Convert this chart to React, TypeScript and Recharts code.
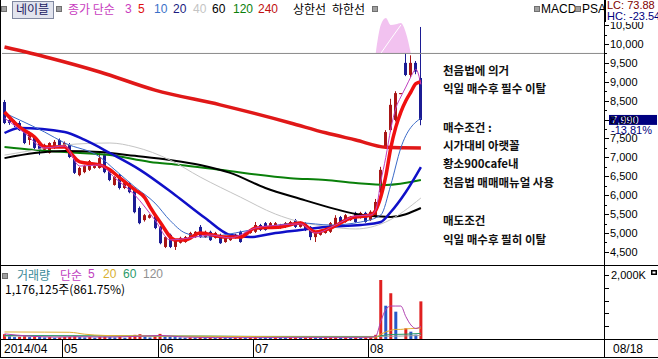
import React from "react"
import {
  Area,
  Bar,
  Cell,
  ComposedChart,
  Line,
  ReferenceLine,
  XAxis,
  YAxis,
} from "recharts"

// 일봉 슬롯 (빈 공간 포함)
const SLOTS = 120

const monthStart = [0, 12, 31, 50, 73]
const monthLabel = ["2014/04", "05", "06", "07", "08"]

const open = [
  8465, 7990, 7940, 7910, 7720, 7460, 7540, 7380, 7200, 7120,
  7250, 7460, 7280, 7330, 7010, 6530, 6610, 6670, 6720, 6720,
  7060, 6670, 6270, 6530, 6190, 6320, 6140, 5660, 5340, 5400,
  5470, 5160, 4630, 4950, 4630, 4740, 4760, 4870, 4890, 5160,
  4890, 5030, 4870, 4950, 4760, 4810, 4870, 5030, 4890, 5000,
  5030, 5210, 5260, 5130, 5130, 5130, 5160, 5210, 5340, 5160,
  5260, 5160, 4890, 4950, 5000, 5030, 5210, 5420, 5290, 5340,
  5530, 5400, 5530, 5340, 5420, 6080, 7270, 7720, 7990, 8700,
  9500, 9180, 9500, 9100,
]
const high = [
  8520, 8040, 7990, 7960, 7750, 7680, 7580, 7400, 7360, 7400,
  7460, 7500, 7420, 7380, 7040, 6750, 6800, 6930, 6800, 7140,
  7100, 6700, 6500, 6560, 6350, 6350, 6170, 5700, 5500, 5500,
  5500, 5180, 4920, 4980, 4840, 4900, 4920, 5030, 5050, 5210,
  5060, 5060, 5030, 4980, 4920, 4920, 4980, 5060, 5030, 5100,
  5290, 5240, 5290, 5290, 5290, 5240, 5290, 5320, 5370, 5310,
  5290, 5180, 5050, 5050, 5100, 5290, 5470, 5450, 5500, 5450,
  5560, 5560, 5560, 5600, 5900, 6750, 7720, 8550, 8750, 8700,
  9760, 9700, 9550, 10450,
]
const low = [
  7880, 7860, 7800, 7700, 7350, 7330, 7220, 7060, 7150, 7100,
  7220, 7250, 7250, 6980, 6560, 6500, 6580, 6640, 6700, 6700,
  6580, 6370, 6250, 6150, 6160, 6050, 5520, 5230, 5300, 5380,
  5100, 4700, 4600, 4600, 4550, 4720, 4740, 4850, 4870, 4870,
  4870, 4790, 4850, 4710, 4740, 4790, 4850, 4740, 4870, 4980,
  5000, 5050, 5060, 5110, 5110, 5110, 5130, 5190, 5130, 5140,
  5050, 4810, 4760, 4930, 4980, 5000, 5190, 5240, 5270, 5320,
  5270, 5380, 5270, 5320, 5400, 6050, 7250, 7680, 7950, 8700,
  9150, 9100, 9200, 7850,
]
const close = [
  7910, 7910, 7860, 7720, 7380, 7650, 7250, 7200, 7330, 7380,
  7410, 7280, 7380, 7010, 6590, 6720, 6770, 6900, 6770, 6980,
  6610, 6400, 6480, 6190, 6320, 6080, 5550, 5260, 5470, 5470,
  5130, 4730, 4890, 4630, 4810, 4870, 4890, 5000, 5030, 4890,
  5030, 4810, 5000, 4730, 4890, 4890, 4950, 4760, 5000, 5080,
  5210, 5080, 5080, 5260, 5260, 5210, 5260, 5290, 5160, 5290,
  5080, 4890, 5030, 5030, 5080, 5260, 5400, 5260, 5470, 5420,
  5290, 5530, 5290, 5560, 5820, 6670, 7670, 8390, 8700, 8700,
  9180, 9500, 9270, 7990,
]
// 거래량 (천주)
const volume = [
  150, 90, 60, 70, 110, 60, 80, 70, 50, 60,
  40, 50, 60, 70, 100, 60, 50, 60, 40, 70,
  80, 60, 50, 70, 40, 60, 130, 150, 70, 50,
  90, 160, 80, 70, 60, 50, 40, 50, 45, 60,
  40, 50, 35, 45, 40, 35, 40, 50, 40, 45,
  60, 50, 45, 40, 50, 45, 40, 50, 55, 45,
  50, 60, 50, 40, 45, 60, 70, 50, 55, 45,
  50, 45, 60, 80, 130, 1844, 1040, 1430, 854, 0,
  333, 229, 136, 1176,
]

// 이동평균 [일, 값] - 차트에서 읽은 값
const ma3 = [[0, 8040], [4, 7645], [8, 7250], [12, 7300], [15, 6770], [19, 6800], [22, 6455], [26, 6000], [30, 5340], [33, 4815], [37, 4870], [41, 4945], [45, 4870], [50, 5130], [55, 5210], [59, 5240], [62, 5000], [66, 5210], [70, 5450], [73, 5475], [74, 5610], [75, 6350], [76, 7000], [77, 7750], [78, 8300], [79, 8600], [80, 8860], [81, 9130], [82, 9330], [83, 8930]]
const ma5 = [[0, 8200], [3, 7800], [6, 7540], [8, 7275], [12, 7275], [13, 7140], [15, 6880], [19, 6800], [21, 6670], [23, 6455], [26, 6140], [28, 5925], [29, 5690], [31, 5290], [34, 4815], [36, 4815], [39, 5000], [44, 4890], [47, 4890], [50, 5130], [55, 5160], [59, 5265], [62, 5025], [65, 5130], [69, 5395], [73, 5475], [74, 5600], [75, 5950], [76, 6500], [77, 7250], [78, 7800], [79, 8200], [80, 8500], [81, 8730], [82, 8950], [83, 9000]]
const ma10 = [[0, 8175], [3, 7990], [8, 7670], [12, 7380], [19, 7010], [22, 6670], [26, 6215], [30, 5790], [33, 5330], [36, 5000], [40, 4890], [46, 5000], [51, 5130], [59, 5265], [65, 5210], [71, 5290], [75, 5475], [77, 6270], [79, 7250], [83, 8040]]
const ma20 = [[0, 7645], [3, 7780], [12, 7670], [16, 7460], [21, 7115], [27, 6670], [34, 6005], [40, 5395], [45, 4945], [49, 4890], [54, 5000], [59, 5080], [64, 5160], [71, 5210], [75, 5290], [77, 5555], [80, 6085], [83, 6745]]
const ma40 = [[0, 7060], [6, 7195], [12, 7330], [21, 7380], [26, 7275], [33, 6930], [39, 6480], [47, 5950], [54, 5500], [59, 5290], [65, 5160], [70, 5105], [76, 5290], [83, 5925]]
const ma60 = [[0, 6980], [6, 7115], [12, 7170], [19, 7140], [26, 7040], [33, 6930], [39, 6800], [45, 6590], [52, 6190], [59, 5900], [66, 5630], [70, 5500], [77, 5420], [83, 5660]]
const ma120 = [[0, 7275], [6, 7195], [12, 7140], [21, 7060], [29, 6880], [35, 6800], [43, 6670], [57, 6450], [64, 6400], [70, 6320], [76, 6270], [83, 6400]]
const ma240 = [[0, 9920], [9, 9630], [19, 9260], [30, 8780], [43, 8390], [57, 7910], [64, 7650], [70, 7460], [76, 7270], [83, 7250]]

// 상단 분홍 영역
const bandBase = 9750
const bandTop = [[74, 9750], [75, 10500], [76, 10690], [77, 10500], [78, 10520], [79, 10555], [80, 10300], [81, 9750]]
const bandEdge = [[75, 9750], [77, 10130], [79, 10500]]

const vma5 = [[0, 160], [5, 90], [10, 60], [15, 70], [20, 60], [26, 80], [31, 110], [36, 60], [42, 45], [50, 45], [60, 50], [70, 50], [73, 55], [74, 90], [75, 550], [76, 920], [77, 1030], [78, 1030], [79, 1030], [80, 700], [81, 440], [82, 330], [83, 400]]
const vma20 = [[0, 220], [8, 215], [13, 210], [16, 150], [20, 110], [30, 95], [40, 85], [50, 75], [60, 60], [70, 55], [74, 60], [75, 150], [76, 220], [77, 270], [78, 300], [79, 300], [80, 315], [81, 325], [82, 330], [83, 345]]
const vma60 = [[0, 110], [20, 100], [40, 90], [60, 70], [74, 70], [75, 100], [77, 140], [80, 150], [83, 175]]
const vma120 = [[0, 90], [40, 85], [74, 80], [83, 110]]

const priceTicks = [4500, 4750, 5000, 5250, 5500, 5750, 6000, 6250, 6500, 6750, 7000, 7250, 7500, 7750, 8000, 8250, 8500, 8750, 9000, 9250, 9500, 9750, 10000, 10250, 10500]
const volumeTicks = [0, 400, 800, 1200, 1600, 2000]

const UP = "#a81616"
const DOWN = "#1c1c94"
const KFONT = "'Noto Sans CJK KR', 'Noto Sans', sans-serif"
const AFONT = "'Liberation Sans', Arial, sans-serif"

const rows: any[] = Array.from({ length: SLOTS }, (_, d) => {
  const r: any = { day: d }
  if (d < close.length) {
    r.open = open[d]
    r.high = high[d]
    r.low = low[d]
    r.close = close[d]
    r.range = [low[d], high[d]]
    r.volume = volume[d]
  }
  return r
})
const put = (key: string, pts: number[][]) =>
  pts.forEach(([d, v]) => (rows[d][key] = v))
put("ma3", ma3)
put("ma5", ma5)
put("ma10", ma10)
put("ma20", ma20)
put("ma40", ma40)
put("ma60", ma60)
put("ma120", ma120)
put("ma240", ma240)
put("edge", bandEdge)
put("vma5", vma5)
put("vma20", vma20)
put("vma60", vma60)
put("vma120", vma120)
bandTop.forEach(([d, v]) => (rows[d].band = [bandBase, v]))

const last = close.length - 1
const lastClose = close[last]
const change = ((close[last] - close[last - 1]) / close[last - 1]) * 100

function Candle(props: any) {
  const { x, y, width, height, payload } = props
  if (!payload || payload.open == null) return <g />
  let top = y
  let h = height
  if (h < 0) {
    top = y + h
    h = -h
  }
  const { open: o, close: c, high: hi, low: lo } = payload
  const color = c >= o ? UP : DOWN
  const k = hi > lo ? h / (hi - lo) : 0
  const py = (v: number) => top + (hi - v) * k
  const bx = Math.round(x)
  const w = Math.max(1, Math.round(width))
  const cx = bx + Math.floor(w / 2) + 0.5
  const b1 = py(Math.max(o, c))
  const b2 = py(Math.min(o, c))
  return (
    <g>
      <line x1={cx} x2={cx} y1={top} y2={top + Math.max(h, 1)} stroke={color} />
      <rect x={bx} y={b1} width={w} height={Math.max(1, b2 - b1)} fill={color} />
    </g>
  )
}

function PriceTick(props: any) {
  const { x, y, payload } = props
  const v = payload.value as number
  const major = v % 500 === 0
  const yy = Math.round(y) + 0.5
  return (
    <g>
      <line x1={x} x2={x + (major ? 5 : 3)} y1={yy} y2={yy} stroke="#000" />
      {major && (
        <text x={x + 6} y={y + 4} fontSize={11} fill="#000" fontFamily={AFONT}>
          {v.toLocaleString("en-US")}
        </text>
      )}
    </g>
  )
}

function VolumeTick(props: any) {
  const { x, y, payload } = props
  const v = payload.value as number
  const yy = Math.round(y) + 0.5
  return (
    <g>
      <line x1={x} x2={x + 5} y1={yy} y2={yy} stroke="#000" />
      {v === 2000 && (
        <g>
          <text x={x + 7} y={y + 4} fontSize={11} fill="#000" fontFamily={AFONT}>
            2,000K
          </text>
          <rect x={x + 47} y={y - 5} width={6} height={5} fill="#000" />
          <rect x={x + 48.5} y={y - 3.5} width={3} height={2} fill="#fff" />
        </g>
      )}
    </g>
  )
}

const BAND = 602 / SLOTS

function DateTick(props: any) {
  const { x, y, payload } = props
  const idx = monthStart.indexOf(payload.value)
  if (idx < 0) return <g />
  const lx = Math.round(x - BAND / 2) + 0.5
  return (
    <g>
      {idx > 0 && <line x1={lx} x2={lx} y1={y} y2={y + 18} stroke="#000" />}
      <text x={lx + 1.5} y={y + 14} fontSize={12} fill="#000" fontFamily={AFONT}>
        {monthLabel[idx]}
      </text>
    </g>
  )
}

function PriceTag(props: any) {
  const vb = props.viewBox || {}
  const x0 = vb.x + vb.width + 5
  const yc = vb.y
  return (
    <g>
      <rect x={x0} y={yc - 5} width={48} height={10} fill="#000080" />
      <text x={x0 + 2} y={yc + 4} fontSize={11} fill="#fff" fontFamily={AFONT}>
        {lastClose.toLocaleString("en-US")}
      </text>
      <rect x={x0} y={yc + 5} width={48} height={9} fill="#fff" />
      <text x={x0 + 2} y={yc + 14} fontSize={11} fill="#000080" fontFamily={AFONT}>
        {change.toFixed(2)}%
      </text>
    </g>
  )
}

const T = (p: {
  x: number
  y: number
  c?: string
  s?: number
  w?: number
  f?: string
  lh?: number
  children: React.ReactNode
}) => (
  <div
    style={{
      position: "absolute",
      left: p.x,
      top: p.y,
      color: p.c || "#000",
      fontSize: p.s || 12,
      fontWeight: p.w || 400,
      fontFamily: p.f || KFONT,
      lineHeight: (p.lh || 14) + "px",
      whiteSpace: "nowrap",
    }}
  >
    {p.children}
  </div>
)

const Sq = ({ x, y }: { x: number; y: number }) => (
  <div
    style={{
      position: "absolute",
      left: x,
      top: y,
      width: 4,
      height: 4,
      background: "#a0a0a0",
      border: "1px solid #707070",
    }}
  />
)

const HLine = ({ y }: { y: number }) => (
  <div style={{ position: "absolute", left: 0, top: y, width: 658, height: 1, background: "#000" }} />
)

const maLine = (key: string, color: string, w: number) => (
  <Line
    key={key}
    dataKey={key}
    stroke={color}
    strokeWidth={w}
    dot={false}
    type="monotone"
    connectNulls
    isAnimationActive={false}
  />
)

const notes = [
  ["천음법에 의거", 63],
  ["익일 매수후 필수 이탈", 81],
  ["매수조건 :", 120],
  ["시가대비 아랫꼴", 138],
  ["황소900cafe내", 156],
  ["천음법 매매매뉴얼 사용", 175],
  ["매도조건", 213],
  ["익일 매수후 필히 이탈", 232],
] as const

export default function App() {
  return (
    <div
      style={{
        position: "absolute",
        left: 0,
        top: 0,
        width: 658,
        height: 359,
        background: "#fff",
        overflow: "hidden",
      }}
    >
      <div style={{ position: "absolute", left: 0, top: 0 }}>
        <ComposedChart
          width={658}
          height={264}
          data={rows}
          margin={{ top: 0, right: 0, bottom: 1, left: 2 }}
        >
          <XAxis dataKey="day" hide />
          <YAxis
            orientation="right"
            type="number"
            width={54}
            domain={[4205, 11164]}
            allowDataOverflow
            ticks={priceTicks}
            interval={0}
            axisLine={false}
            tickLine={false}
            tickSize={0}
            tickMargin={0}
            tick={<PriceTick />}
          />
          <Area
            dataKey="band"
            type="monotone"
            stroke="none"
            fill="#f2c2f0"
            fillOpacity={1}
            isAnimationActive={false}
          />
          <Line
            dataKey="edge"
            stroke="#fff"
            strokeWidth={1}
            dot={false}
            type="monotone"
            connectNulls
            isAnimationActive={false}
          />
          <ReferenceLine y={9750} stroke="#8a8a8a" />
          <Bar dataKey="range" barSize={3} shape={<Candle />} isAnimationActive={false} />
          {maLine("ma240", "#e01818", 3.5)}
          {maLine("ma120", "#0a800a", 2)}
          {maLine("ma60", "#000000", 2)}
          {maLine("ma40", "#c4c4c4", 1)}
          {maLine("ma20", "#1010c8", 2.5)}
          {maLine("ma10", "#3a6ac8", 1)}
          {maLine("ma5", "#f01010", 3.5)}
          {maLine("ma3", "#c040c0", 1)}
          <ReferenceLine y={lastClose} stroke="none" label={<PriceTag />} />
        </ComposedChart>
      </div>

      <div style={{ position: "absolute", left: 0, top: 264 }}>
        <ComposedChart
          width={658}
          height={94}
          data={rows}
          margin={{ top: 2, right: 0, bottom: 0, left: 2 }}
        >
          <XAxis
            dataKey="day"
            interval={0}
            height={19}
            axisLine={false}
            tickLine={false}
            tickSize={0}
            tickMargin={0}
            tick={<DateTick />}
          />
          <YAxis
            orientation="right"
            type="number"
            width={54}
            domain={[0, 2281]}
            allowDataOverflow
            ticks={volumeTicks}
            interval={0}
            axisLine={false}
            tickLine={false}
            tickSize={0}
            tickMargin={0}
            tick={<VolumeTick />}
          />
          <Bar dataKey="volume" barSize={3} isAnimationActive={false}>
            {rows.map((r, i) => (
              <Cell
                key={i}
                fill={i > 0 && r.volume <= (rows[i - 1].volume ?? 0) ? "#2858c8" : "#e02020"}
              />
            ))}
          </Bar>
          {maLine("vma120", "#a0a0a0", 1)}
          {maLine("vma60", "#2a9a6a", 1)}
          {maLine("vma20", "#e0b030", 1)}
          {maLine("vma5", "#b040b0", 1)}
        </ComposedChart>
      </div>

      {/* 테두리 */}
      <div style={{ position: "absolute", left: 0, top: 0, width: 1, height: 358, background: "#000" }} />
      <div style={{ position: "absolute", left: 604, top: 0, width: 1, height: 358, background: "#000" }} />
      <HLine y={265} />
      <HLine y={339} />
      <HLine y={357} />

      {/* 가격 범례 */}
      <Sq x={1} y={6} />
      <div
        style={{
          position: "absolute",
          left: 12,
          top: 1,
          width: 40,
          height: 16,
          background: "#e2e4ee",
          border: "1px solid #8088a0",
        }}
      />
      <T x={16} y={2} c="#181860">네이블</T>
      <Sq x={56} y={6} />
      <T x={68} y={2} c="#c83cc0">종가 단순</T>
      <T x={125} y={2} c="#c83cc0" f={AFONT}>3</T>
      <T x={138} y={2} c="#e01010" f={AFONT}>5</T>
      <T x={154} y={2} c="#3a70c8" f={AFONT}>10</T>
      <T x={173} y={2} c="#1a1a80" f={AFONT}>20</T>
      <T x={193} y={2} c="#c4c4c4" f={AFONT}>40</T>
      <T x={212} y={2} c="#000" f={AFONT}>60</T>
      <T x={233} y={2} c="#0a800a" f={AFONT}>120</T>
      <T x={258} y={2} c="#c01010" f={AFONT}>240</T>
      <T x={293} y={2}>상한선</T>
      <T x={332} y={2}>하한선</T>
      <Sq x={372} y={6} />
      <Sq x={534} y={6} />
      <T x={541} y={2} f={AFONT}>MACD</T>
      <Sq x={575} y={6} />
      <T x={582} y={2} f={AFONT}>PSAR</T>
      <div
        style={{
          position: "absolute",
          left: 605,
          top: 0,
          width: 53,
          height: 22,
          background: "#fff",
          borderLeft: "1px solid #000",
        }}
      />
      <T x={607} y={0} c="#800000" s={11} f={AFONT} lh={11}>LC: 73.88</T>
      <T x={607} y={11} c="#000080" s={11} f={AFONT} lh={11}>HC: -23.54</T>

      {/* 메모 */}
      {notes.map(([t, y]) => (
        <T key={t} x={443} y={y} s={11.5} w={700} c="#111">
          {t}
        </T>
      ))}

      {/* 거래량 범례 */}
      <Sq x={2} y={273} />
      <T x={17} y={268} c="#3a8a98" lh={13}>거래량</T>
      <T x={60} y={268} c="#c040c0" lh={13}>단순</T>
      <T x={88} y={268} c="#c040c0" f={AFONT} lh={13}>5</T>
      <T x={103} y={268} c="#d8b030" f={AFONT} lh={13}>20</T>
      <T x={123} y={268} c="#2a9a6a" f={AFONT} lh={13}>60</T>
      <T x={143} y={268} c="#909090" f={AFONT} lh={13}>120</T>
      <T x={5} y={282} lh={13}>1,176,125주(861.75%)</T>

      <T x={613} y={342} f={AFONT}>08/18</T>
    </div>
  )
}
